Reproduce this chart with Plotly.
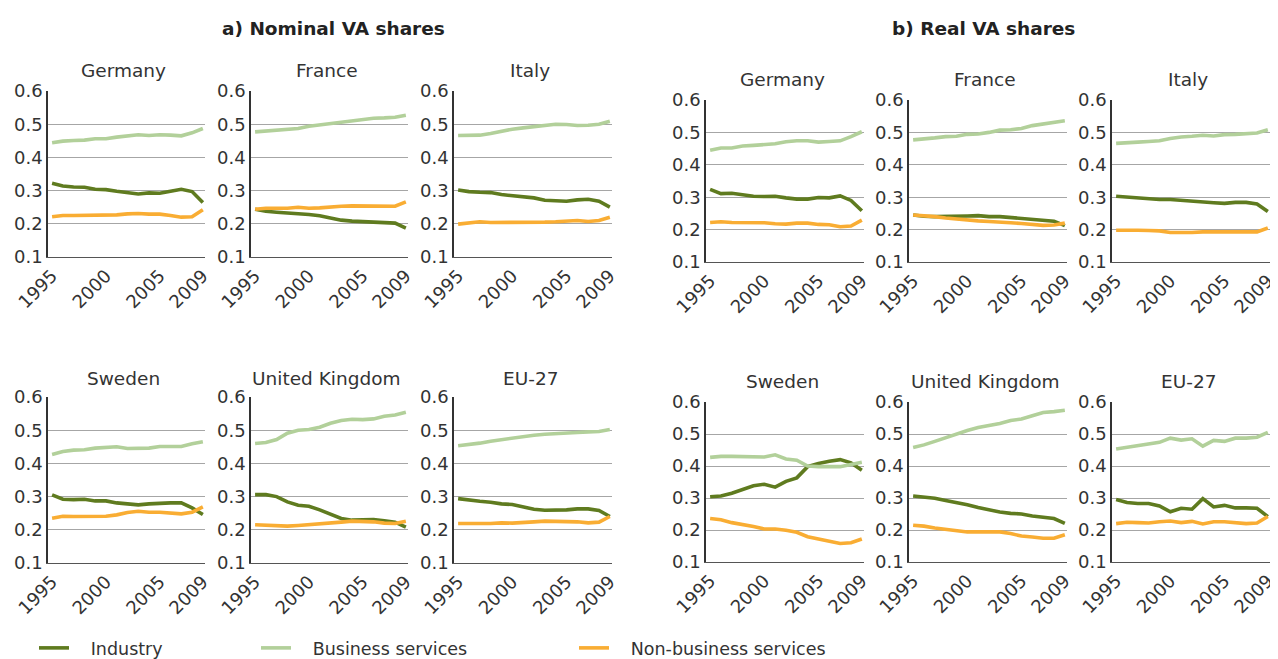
import plotly.graph_objects as go

YEARS = list(range(1995, 2010))
COUNTRIES = ["Germany", "France", "Italy", "Sweden", "United Kingdom", "EU-27"]
SERIES = ["Industry", "Business services", "Non-business services"]
COLORS = ["#5f7b1f", "#b2d09a", "#f9ad33"]
Y_TICKS = [0.1, 0.2, 0.3, 0.4, 0.5, 0.6]
X_TICKS = [1995, 2000, 2005, 2009]
GROUP_TITLES = ["a) Nominal VA shares", "b) Real VA shares"]

# ---- a) Nominal VA shares ----
NOM_DE_IND = [0.322, 0.314, 0.311, 0.310, 0.304, 0.303, 0.298, 0.293, 0.290, 0.293, 0.292, 0.298, 0.304, 0.297, 0.264]
NOM_DE_BUS = [0.444, 0.449, 0.451, 0.452, 0.456, 0.456, 0.461, 0.465, 0.468, 0.466, 0.468, 0.467, 0.465, 0.474, 0.487]
NOM_DE_NON = [0.221, 0.225, 0.225, 0.225, 0.226, 0.227, 0.227, 0.230, 0.231, 0.229, 0.229, 0.225, 0.220, 0.221, 0.242]

NOM_FR_IND = [0.244, 0.238, 0.235, 0.233, 0.230, 0.228, 0.224, 0.217, 0.211, 0.208, 0.206, 0.204, 0.204, 0.202, 0.187]
NOM_FR_BUS = [0.477, 0.479, 0.483, 0.485, 0.487, 0.494, 0.498, 0.502, 0.506, 0.509, 0.513, 0.518, 0.519, 0.521, 0.527]
NOM_FR_NON = [0.244, 0.247, 0.247, 0.247, 0.250, 0.247, 0.248, 0.251, 0.253, 0.254, 0.254, 0.253, 0.252, 0.253, 0.266]

NOM_IT_IND = [0.302, 0.297, 0.295, 0.294, 0.288, 0.285, 0.282, 0.278, 0.271, 0.270, 0.268, 0.272, 0.274, 0.268, 0.250]
NOM_IT_BUS = [0.466, 0.466, 0.467, 0.472, 0.479, 0.485, 0.489, 0.493, 0.498, 0.500, 0.499, 0.496, 0.497, 0.500, 0.509]
NOM_IT_NON = [0.199, 0.203, 0.206, 0.204, 0.204, 0.203, 0.203, 0.203, 0.205, 0.206, 0.209, 0.210, 0.207, 0.210, 0.220]

NOM_SE_IND = [0.305, 0.292, 0.291, 0.292, 0.287, 0.287, 0.281, 0.278, 0.275, 0.278, 0.280, 0.281, 0.281, 0.266, 0.246]
NOM_SE_BUS = [0.427, 0.436, 0.440, 0.441, 0.446, 0.449, 0.450, 0.445, 0.445, 0.446, 0.451, 0.451, 0.451, 0.459, 0.465]
NOM_SE_NON = [0.235, 0.241, 0.240, 0.240, 0.241, 0.241, 0.245, 0.252, 0.256, 0.253, 0.253, 0.251, 0.248, 0.253, 0.269]

NOM_UK_IND = [0.306, 0.306, 0.300, 0.284, 0.274, 0.271, 0.260, 0.246, 0.234, 0.229, 0.231, 0.231, 0.227, 0.223, 0.208]
NOM_UK_BUS = [0.460, 0.463, 0.472, 0.491, 0.500, 0.502, 0.509, 0.521, 0.529, 0.533, 0.532, 0.534, 0.542, 0.546, 0.554]
NOM_UK_NON = [0.215, 0.213, 0.212, 0.211, 0.213, 0.215, 0.218, 0.220, 0.223, 0.226, 0.226, 0.224, 0.220, 0.219, 0.226]

NOM_EU_IND = [0.294, 0.289, 0.286, 0.283, 0.278, 0.276, 0.269, 0.262, 0.259, 0.259, 0.260, 0.263, 0.263, 0.258, 0.240]
NOM_EU_BUS = [0.453, 0.456, 0.461, 0.467, 0.472, 0.476, 0.481, 0.485, 0.488, 0.489, 0.491, 0.493, 0.495, 0.496, 0.502]
NOM_EU_NON = [0.219, 0.220, 0.219, 0.219, 0.221, 0.220, 0.221, 0.224, 0.226, 0.226, 0.226, 0.224, 0.221, 0.223, 0.240]

# ---- b) Real VA shares ----
REAL_DE_IND = [0.324, 0.311, 0.312, 0.307, 0.303, 0.302, 0.303, 0.298, 0.294, 0.294, 0.299, 0.298, 0.304, 0.290, 0.258]
REAL_DE_BUS = [0.445, 0.452, 0.452, 0.458, 0.460, 0.462, 0.465, 0.471, 0.474, 0.474, 0.470, 0.472, 0.474, 0.487, 0.502]
REAL_DE_NON = [0.222, 0.224, 0.222, 0.222, 0.222, 0.221, 0.218, 0.217, 0.220, 0.220, 0.216, 0.215, 0.209, 0.211, 0.229]

REAL_FR_IND = [0.245, 0.241, 0.240, 0.240, 0.242, 0.242, 0.243, 0.240, 0.240, 0.237, 0.236, 0.232, 0.230, 0.226, 0.212]
REAL_FR_BUS = [0.477, 0.479, 0.483, 0.487, 0.488, 0.494, 0.495, 0.500, 0.507, 0.508, 0.512, 0.521, 0.526, 0.530, 0.536]
REAL_FR_NON = [0.245, 0.243, 0.240, 0.236, 0.233, 0.228, 0.227, 0.225, 0.224, 0.221, 0.219, 0.216, 0.213, 0.214, 0.220]

REAL_IT_IND = [0.303, 0.300, 0.297, 0.295, 0.293, 0.293, 0.290, 0.288, 0.285, 0.283, 0.281, 0.284, 0.284, 0.279, 0.256]
REAL_IT_BUS = [0.466, 0.467, 0.470, 0.472, 0.474, 0.481, 0.486, 0.488, 0.491, 0.489, 0.493, 0.494, 0.496, 0.498, 0.508]
REAL_IT_NON = [0.198, 0.199, 0.198, 0.197, 0.196, 0.191, 0.190, 0.191, 0.193, 0.193, 0.193, 0.192, 0.191, 0.193, 0.205]

REAL_SE_IND = [0.304, 0.306, 0.315, 0.326, 0.338, 0.343, 0.334, 0.352, 0.363, 0.398, 0.408, 0.415, 0.420, 0.410, 0.387]
REAL_SE_BUS = [0.427, 0.430, 0.430, 0.429, 0.427, 0.428, 0.435, 0.422, 0.418, 0.400, 0.398, 0.398, 0.398, 0.405, 0.412]
REAL_SE_NON = [0.236, 0.232, 0.223, 0.218, 0.211, 0.203, 0.203, 0.199, 0.193, 0.179, 0.172, 0.164, 0.158, 0.160, 0.172]

REAL_UK_IND = [0.306, 0.303, 0.299, 0.292, 0.286, 0.279, 0.270, 0.262, 0.256, 0.252, 0.250, 0.244, 0.239, 0.236, 0.221]
REAL_UK_BUS = [0.458, 0.466, 0.477, 0.489, 0.500, 0.511, 0.520, 0.526, 0.533, 0.542, 0.547, 0.557, 0.567, 0.570, 0.574]
REAL_UK_NON = [0.215, 0.212, 0.206, 0.202, 0.198, 0.194, 0.194, 0.195, 0.194, 0.189, 0.181, 0.178, 0.174, 0.174, 0.185]

REAL_EU_IND = [0.295, 0.286, 0.283, 0.283, 0.275, 0.257, 0.268, 0.265, 0.298, 0.272, 0.277, 0.269, 0.269, 0.268, 0.242]
REAL_EU_BUS = [0.453, 0.458, 0.464, 0.468, 0.474, 0.487, 0.481, 0.485, 0.462, 0.480, 0.477, 0.487, 0.487, 0.490, 0.505]
REAL_EU_NON = [0.220, 0.224, 0.223, 0.222, 0.226, 0.228, 0.223, 0.227, 0.219, 0.226, 0.226, 0.224, 0.220, 0.222, 0.242]

NOMINAL = [
    (NOM_DE_IND, NOM_DE_BUS, NOM_DE_NON),
    (NOM_FR_IND, NOM_FR_BUS, NOM_FR_NON),
    (NOM_IT_IND, NOM_IT_BUS, NOM_IT_NON),
    (NOM_SE_IND, NOM_SE_BUS, NOM_SE_NON),
    (NOM_UK_IND, NOM_UK_BUS, NOM_UK_NON),
    (NOM_EU_IND, NOM_EU_BUS, NOM_EU_NON),
]
REAL = [
    (REAL_DE_IND, REAL_DE_BUS, REAL_DE_NON),
    (REAL_FR_IND, REAL_FR_BUS, REAL_FR_NON),
    (REAL_IT_IND, REAL_IT_BUS, REAL_IT_NON),
    (REAL_SE_IND, REAL_SE_BUS, REAL_SE_NON),
    (REAL_UK_IND, REAL_UK_BUS, REAL_UK_NON),
    (REAL_EU_IND, REAL_EU_BUS, REAL_EU_NON),
]

# The page body has an 8px margin, so the figure is 8px smaller than the window
# and all target pixel positions are shifted by 8px.
OFF = 8
W, H = 1278 - OFF, 659 - OFF
FONT = "DejaVu Sans"


def fx(px):
    return (px - OFF) / W


def fy(py):
    return 1 - (py - OFF) / H


# pixel layout of panels (window coordinates)
GROUP_COLS = [
    [(48, 205), (251, 408), (454, 612)],
    [(706, 864), (909, 1067), (1112, 1270)],
]
GROUP_ROWS = [
    [(91, 257), (397, 563)],
    [(100, 262), (402, 562)],
]
TITLE_Y = [[70, 378], [80, 381]]

fig = go.Figure()
layout = dict(
    width=W, height=H,
    margin=dict(l=0, r=0, t=0, b=0, autoexpand=False),
    paper_bgcolor="white", plot_bgcolor="white",
    font=dict(family=FONT, size=18, color="#333333"),
    annotations=[],
)

ax = 0
for g, data in enumerate([NOMINAL, REAL]):
    for i, country in enumerate(COUNTRIES):
        ax += 1
        r, c = divmod(i, 3)
        x0, x1 = GROUP_COLS[g][c]
        y0, y1 = GROUP_ROWS[g][r]
        xn = "x" if ax == 1 else f"x{ax}"
        yn = "y" if ax == 1 else f"y{ax}"
        xk = "xaxis" if ax == 1 else f"xaxis{ax}"
        yk = "yaxis" if ax == 1 else f"yaxis{ax}"
        layout[xk] = dict(
            domain=[fx(x0), fx(x1)], anchor=yn,
            range=[1994.62, 2009.2], tickvals=X_TICKS, ticktext=[str(v) for v in X_TICKS],
            tickangle=-45, showgrid=False, zeroline=False,
            showline=True, linecolor="#555555", linewidth=1.3,
            ticks="", tickfont=dict(size=18, color="#333333"), automargin=False,
        )
        layout[yk] = dict(
            domain=[fy(y1), fy(y0)], anchor=xn,
            range=[0.1, 0.6], tickvals=Y_TICKS, tickformat=".1f",
            showgrid=True, gridcolor="#a6a6a6", gridwidth=1.2, zeroline=False,
            showline=True, linecolor="#333333", linewidth=1.5,
            ticks="", tickfont=dict(size=18, color="#333333"), automargin=False,
        )
        for s, name in enumerate(SERIES):
            fig.add_trace(go.Scatter(
                x=YEARS, y=data[i][s], mode="lines", name="\u00a0\u00a0\u00a0" + name,
                line=dict(color=COLORS[s], width=3.6),
                xaxis=xn, yaxis=yn,
                showlegend=(ax == 1),
                legend=["legend", "legend2", "legend3"][s],
            ))
        layout["annotations"].append(dict(
            text=country, x=fx((x0 + x1) / 2 - 3), y=fy(TITLE_Y[g][r]),
            xref="paper", yref="paper", showarrow=False,
            xanchor="center", yanchor="middle",
            font=dict(size=18.5, color="#333333", family=FONT),
        ))

for g, title in enumerate(GROUP_TITLES):
    cx = [333, 983][g]
    layout["annotations"].append(dict(
        text=f"<b>{title}</b>", x=fx(cx), y=fy(28),
        xref="paper", yref="paper", showarrow=False,
        xanchor="center", yanchor="middle",
        font=dict(size=18.5, color="#222222", family=FONT),
    ))

LEG_X = [34, 256, 574]
for s, key in enumerate(["legend", "legend2", "legend3"]):
    layout[key] = dict(
        x=fx(LEG_X[s]), y=fy(648), xanchor="left", yanchor="middle",
        orientation="h", bgcolor="rgba(0,0,0,0)", borderwidth=0,
        font=dict(size=17.5, color="#333333", family=FONT),
        itemwidth=30,
    )

fig.update_layout(**layout)
fig.write_html("out.html")
